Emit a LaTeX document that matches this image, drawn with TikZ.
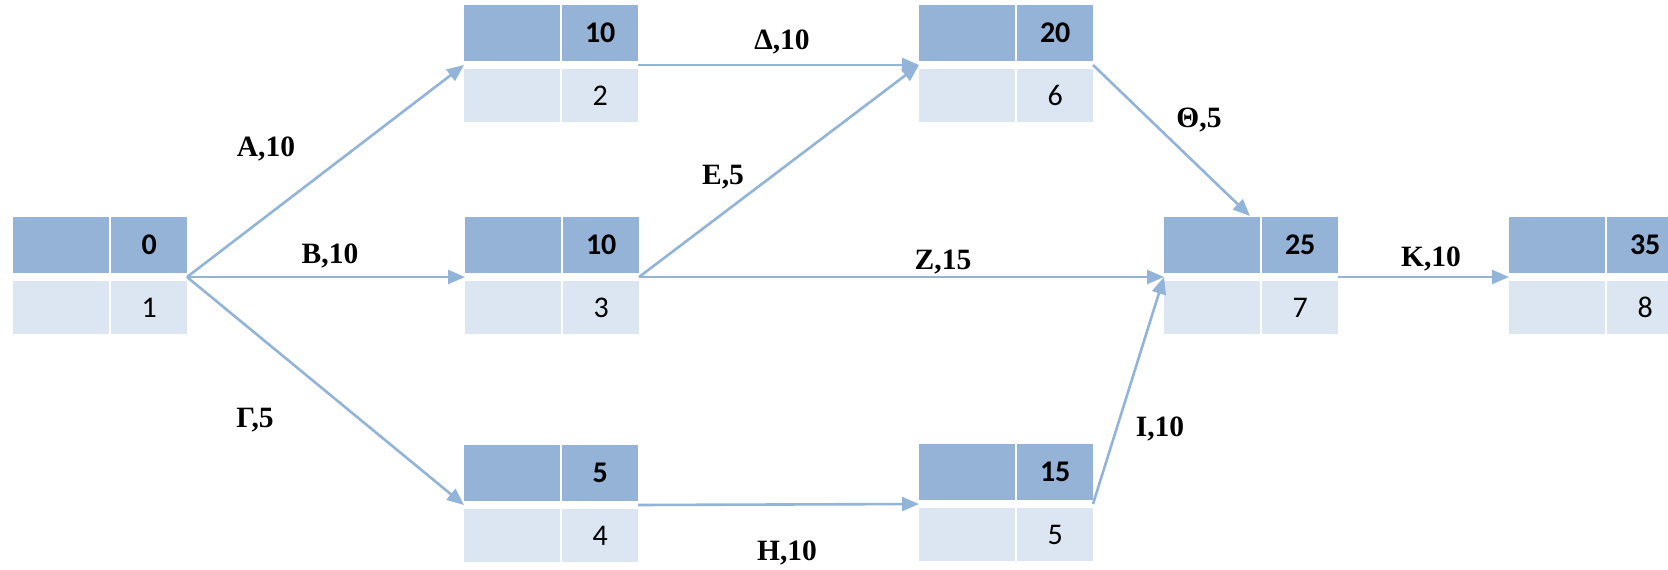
\documentclass[tikz,border=0pt]{standalone}
\usepackage{fontspec}
\setmainfont{Liberation Serif}
\newfontfamily\numfont{Carlito}
\usetikzlibrary{arrows.meta,calc}
\definecolor{topblue}{HTML}{95B3D7}
\definecolor{botblue}{HTML}{DCE6F2}
\definecolor{linkblue}{HTML}{92B4D8}
\tikzset{
  topcell/.style={fill=topblue, inner sep=0pt, minimum height=56pt, anchor=north west},
  botcell/.style={fill=botblue, inner sep=0pt, minimum height=53pt, anchor=north west},
  topnum/.style={font=\numfont\bfseries\fontsize{30}{32}\selectfont},
  botnum/.style={font=\numfont\fontsize{30}{32}\selectfont},
  link/.style={draw=linkblue, line width=2.6pt, -{Triangle[length=17pt,width=14pt]}},
  lbl/.style={font=\bfseries\fontsize{29.5}{32}\selectfont, inner sep=0pt},
}
\newcommand\netbox[5]{%
  \node[topcell, minimum width=96pt] (#1-tl) at (#2,#3) {};
  \node[topcell, topnum, minimum width=76pt] (#1-tr) at (#2+98,#3) {#4};
  \node[botcell, minimum width=96pt] (#1-bl) at (#2,#3+64) {};
  \node[botcell, botnum, minimum width=76pt] (#1-br) at (#2+98,#3+64) {#5};
  \coordinate (#1-w) at (#2,#3+60);
  \coordinate (#1-e) at (#2+174,#3+60);
  \coordinate (#1-n) at (#2+86,#3-1);
}
\begin{document}
\begin{tikzpicture}[x=1pt,y=-1pt]
\useasboundingbox (0,0) rectangle (1668,570);
\clip (0,0) rectangle (1668,570);
\netbox{n1}{13}{217}{0}{1}
\netbox{n2}{464}{5}{10}{2}
\netbox{n3}{465}{217}{10}{3}
\netbox{n4}{464}{445}{5}{4}
\netbox{n5}{919}{444}{15}{5}
\netbox{n6}{919}{5}{20}{6}
\netbox{n7}{1164}{217}{25}{7}
\netbox{n8}{1509}{217}{35}{8}
\draw[link] (n1-e) -- (n2-w);
\draw[link] (n1-e) -- (n3-w);
\draw[link] (n1-e) -- (n4-w);
\draw[link] (n2-e) -- (n6-w);
\draw[link] (n3-e) -- (n6-w);
\draw[link] (n3-e) -- (n7-w);
\draw[link] (n4-e) -- (n5-w);
\draw[link] (n6-e) -- (n7-n);
\draw[link] (n5-e) -- (n7-w);
\draw[link] (n7-e) -- (n8-w);
\node[lbl] (lA) at (266,149) {Α,10};
\node[lbl] (lB) at (330,256) {Β,10};
\node[lbl] (lG) at (255,420) {Γ,5};
\node[lbl] (lD) at (782,42) {Δ,10};
\node[lbl] (lE) at (723,177) {Ε,5};
\node[lbl] (lZ) at (943,262) {Ζ,15};
\node[lbl] (lH) at (787,553) {Η,10};
\node[lbl] (lT) at (1199,120) {Θ,5};
\node[lbl] (lI) at (1160,429) {Ι,10};
\node[lbl] (lK) at (1431,259) {Κ,10};
\end{tikzpicture}
\end{document}
